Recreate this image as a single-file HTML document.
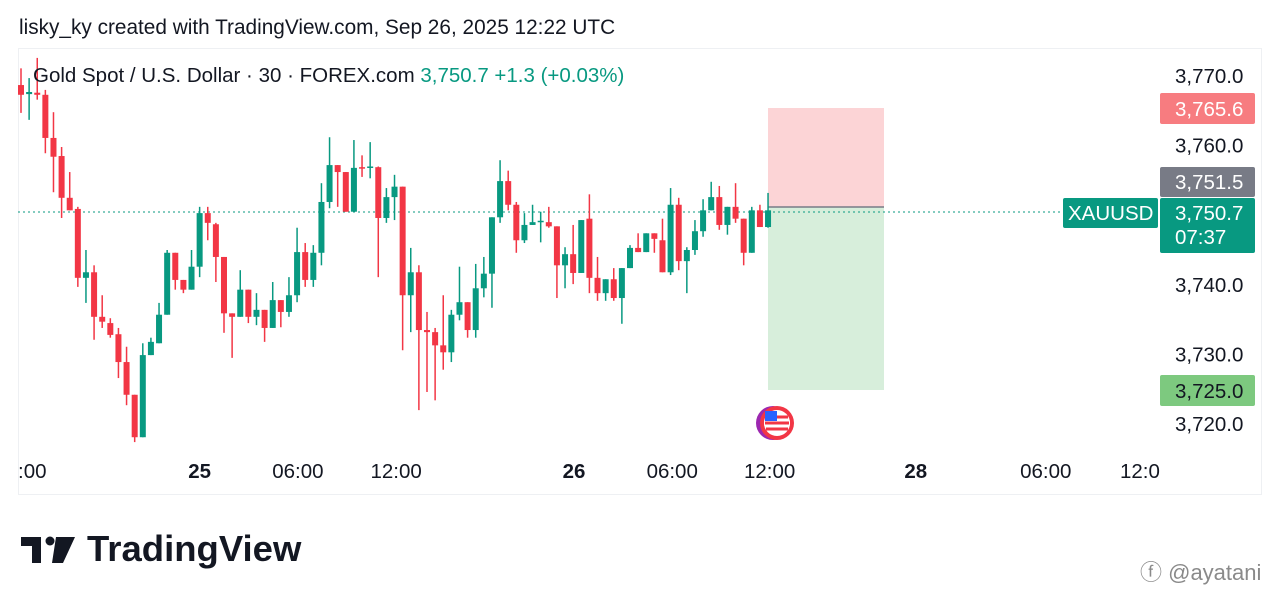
<!DOCTYPE html>
<html><head><meta charset="utf-8">
<style>
body{margin:0;background:#fff;width:1280px;height:602px;overflow:hidden;font-family:"Liberation Sans",sans-serif;}
svg text{font-family:"Liberation Sans",sans-serif;}
</style></head>
<body>
<svg id="chart" width="1280" height="602" viewBox="0 0 1280 602" xmlns="http://www.w3.org/2000/svg">
<text x="19" y="34" font-size="20.8" fill="#131722">lisky_ky created with TradingView.com, Sep 26, 2025 12:22 UTC</text>
<rect x="18.5" y="48.5" width="1243" height="446" fill="none" stroke="#eef0f3"/>
<g id="pos">
<rect x="768" y="108" width="116" height="99" fill="#fcd4d6"/>
<rect x="768" y="207" width="116" height="183" fill="#d7eedb"/>
<line x1="768" y1="207" x2="884" y2="207" stroke="#787b86" stroke-width="1.5"/>
</g>
<line x1="18" y1="212" x2="1062" y2="212" stroke="#089981" stroke-dasharray="2,3" stroke-width="1"/>
<g id="candles"></g>
<text x="33" y="82" font-size="20.5" fill="#131722">Gold Spot / U.S. Dollar · 30 · FOREX.com <tspan fill="#089981"> 3,750.7  +1.3 (+0.03%)</tspan></text>
<g id="yaxis" font-size="20.5" fill="#131722"></g>
<g id="xaxis" font-size="20.5" fill="#131722"></g>
<rect x="1160" y="93" width="95" height="31" rx="2" fill="#f77c80"/>
<text x="1175" y="116" font-size="20.5" fill="#fff">3,765.6</text>
<rect x="1160" y="167" width="95" height="30" rx="2" fill="#787b86"/>
<text x="1175" y="189" font-size="20.5" fill="#fff">3,751.5</text>
<rect x="1063" y="198" width="95" height="30" rx="2" fill="#089981"/>
<text x="1068" y="220" font-size="20.5" fill="#fff">XAUUSD</text>
<rect x="1160" y="198" width="95" height="55" rx="2" fill="#089981"/>
<text x="1175" y="220" font-size="20.5" fill="#fff">3,750.7</text>
<text x="1175" y="244" font-size="20.5" fill="#fff">07:37</text>
<rect x="1160" y="375" width="95" height="31" rx="2" fill="#7dc97f"/>
<text x="1175" y="398" font-size="20.5" fill="#131722">3,725.0</text>
<g>
<circle cx="773" cy="423" r="17" fill="#9c27b0"/>
<circle cx="777" cy="423" r="17" fill="#f23645"/>
<circle cx="777" cy="423" r="13" fill="#fff"/>
<rect x="764" y="411" width="26" height="24" fill="#fff" rx="12"/>
<path d="M766 417h22M765 423h24M766 429h22" stroke="#f23645" stroke-width="3"/>
<rect x="765" y="411" width="12" height="10" fill="#2962ff"/>
</g>
<g>
<path d="M21 537h20v26h-9v-17h-11z" fill="#131722"/>
<circle cx="50" cy="541" r="4.5" fill="#131722"/>
<path d="M56 537h19l-12 26h-11z" fill="#131722"/>
<text x="87" y="561" font-size="36.5" font-weight="bold" fill="#131722">TradingView</text>
</g>
<text x="1140" y="580" font-size="22" fill="#8a8a8a">ⓕ @ayatani</text>
</svg>
<script>
const opens=[3768.7,3767.4,3767.6,3767.3,3761.1,3758.5,3752.5,3750.9,3741.0,3741.8,3735.4,3734.5,3732.9,3728.9,3724.2,3718.1,3729.9,3731.6,3735.7,3744.6,3740.7,3739.3,3742.6,3750.3,3748.7,3744.0,3735.9,3735.4,3739.3,3735.4,3736.4,3733.8,3737.8,3736.1,3738.5,3744.7,3740.7,3744.6,3751.9,3757.2,3756.2,3750.5,3756.9,3756.8,3756.9,3749.6,3752.6,3754.1,3738.5,3741.8,3733.5,3733.2,3731.3,3730.3,3735.7,3737.5,3733.5,3739.5,3741.6,3749.7,3754.9,3751.5,3746.4,3748.6,3749.0,3749.0,3748.4,3742.8,3744.4,3741.7,3749.5,3741.0,3738.8,3740.8,3738.1,3742.4,3745.3,3744.7,3747.4,3746.4,3741.8,3751.5,3743.4,3745.0,3747.7,3750.7,3752.6,3748.6,3751.2,3749.5,3744.6,3750.7,3748.3];
const highs=[3771.1,3769.7,3772.6,3768.0,3764.8,3759.8,3756.2,3751.2,3745.0,3742.8,3738.5,3735.2,3733.8,3731.1,3724.2,3731.6,3732.4,3737.4,3745.0,3744.6,3740.7,3745.0,3751.2,3751.2,3748.9,3744.0,3735.9,3742.1,3739.3,3738.8,3736.4,3740.4,3737.8,3741.1,3748.2,3746.0,3745.7,3754.6,3761.2,3757.2,3756.2,3760.8,3758.6,3760.5,3757.0,3753.9,3755.8,3754.1,3745.3,3742.8,3736.1,3733.8,3738.5,3736.4,3742.6,3737.5,3743.0,3744.0,3749.7,3757.9,3756.4,3751.9,3750.3,3751.5,3750.5,3751.2,3748.4,3745.4,3748.6,3749.3,3753.0,3744.0,3740.8,3742.4,3742.4,3745.7,3747.4,3747.4,3747.4,3749.5,3753.9,3752.5,3745.4,3749.3,3752.3,3754.8,3754.2,3751.2,3754.6,3749.5,3751.2,3751.5,3753.2];
const lows=[3764.7,3763.7,3766.6,3758.9,3753.3,3749.6,3750.7,3739.7,3737.4,3732.1,3733.8,3732.4,3726.6,3722.7,3717.4,3718.1,3729.9,3731.6,3735.7,3739.3,3738.8,3739.3,3741.1,3746.4,3740.4,3733.1,3729.5,3735.4,3734.5,3734.2,3731.8,3733.8,3733.9,3735.4,3737.5,3739.7,3739.7,3742.8,3751.0,3751.2,3750.5,3750.5,3755.5,3755.3,3741.1,3748.9,3749.3,3730.6,3733.2,3722.0,3724.6,3723.4,3727.8,3728.9,3734.9,3732.4,3732.4,3738.2,3736.7,3748.9,3750.7,3744.6,3746.0,3748.6,3746.1,3748.2,3738.1,3739.5,3740.1,3741.7,3738.8,3737.7,3737.7,3737.7,3734.4,3742.4,3744.7,3744.7,3744.6,3741.8,3741.4,3742.1,3738.8,3744.3,3746.9,3750.7,3747.9,3747.2,3748.9,3742.8,3744.6,3748.3,3748.2];
const closes=[3767.3,3767.7,3767.3,3761.1,3758.4,3752.5,3750.7,3741.0,3741.8,3735.4,3734.7,3732.8,3728.9,3724.2,3718.1,3729.9,3731.8,3735.7,3744.6,3740.7,3739.3,3742.6,3750.3,3748.9,3744.0,3735.9,3735.4,3739.3,3735.4,3736.4,3733.8,3737.8,3736.1,3738.5,3744.7,3740.7,3744.6,3751.9,3757.2,3756.2,3750.5,3756.8,3756.8,3757.0,3749.6,3752.6,3754.1,3738.5,3741.8,3733.5,3733.2,3731.3,3730.3,3735.7,3737.5,3733.5,3739.5,3741.6,3749.7,3754.9,3751.5,3746.4,3748.6,3749.0,3749.2,3748.4,3742.8,3744.4,3741.7,3749.3,3741.0,3738.8,3740.8,3738.1,3742.4,3745.3,3744.7,3747.4,3746.6,3741.8,3751.5,3743.4,3745.0,3747.7,3750.7,3752.6,3748.6,3751.2,3749.5,3744.6,3750.7,3748.3,3750.7];
const priceTicks=[3770,3760,3740,3730,3720];
const priceTickLabels=["3,770.0","3,760.0","3,740.0","3,730.0","3,720.0"];
const timeTickIdx=[-10,22,34.1,46.2,68.1,80.2,92.2,110.2,126.2,137.8];
const timeTickLabels=[":00","25","06:00","12:00","26","06:00","12:00","28","06:00","12:0"];
const timeTickBold=[0,1,0,0,1,0,0,1,0,0];

const NS="http://www.w3.org/2000/svg";
function yScale(p){return 76+(3770-p)*6.96;}
function xScale(i){return 21+i*8.12;}
const cg=document.getElementById('candles');
for(let i=0;i<opens.length;i++){
  const up=closes[i]>=opens[i];
  const col=up?'#089981':'#f23645';
  const x=xScale(i);
  const w=document.createElementNS(NS,'line');
  
  
  w.setAttribute('x1',x);w.setAttribute('x2',x);
  w.setAttribute('y1',yScale(highs[i]));w.setAttribute('y2',yScale(lows[i]));
  w.setAttribute('stroke',col);w.setAttribute('stroke-width','1.5');
  cg.appendChild(w);
  const b=document.createElementNS(NS,'rect');
  
  
  const t=yScale(Math.max(opens[i],closes[i])),bt=yScale(Math.min(opens[i],closes[i]));
  b.setAttribute('x',x-3);b.setAttribute('width',6);
  b.setAttribute('y',t);b.setAttribute('height',Math.max(1.5,bt-t));
  b.setAttribute('fill',col);
  cg.appendChild(b);
}
const yg=document.getElementById('yaxis');
priceTicks.forEach((p,k)=>{
  const t=document.createElementNS(NS,'text');
  
  
  t.setAttribute('x',1175);t.setAttribute('y',yScale(p)+7);
  t.textContent=priceTickLabels[k];yg.appendChild(t);
});
const xg=document.getElementById('xaxis');
timeTickIdx.forEach((v,k)=>{
  const t=document.createElementNS(NS,'text');
  
  
  t.setAttribute('x',xScale(v));t.setAttribute('y',478);
  t.setAttribute('text-anchor',k==0?'start':'middle');
  if(k==0)t.setAttribute('x',18);
  if(timeTickBold[k])t.setAttribute('font-weight','bold');
  t.textContent=timeTickLabels[k];xg.appendChild(t);
});
</script>
</body></html>
